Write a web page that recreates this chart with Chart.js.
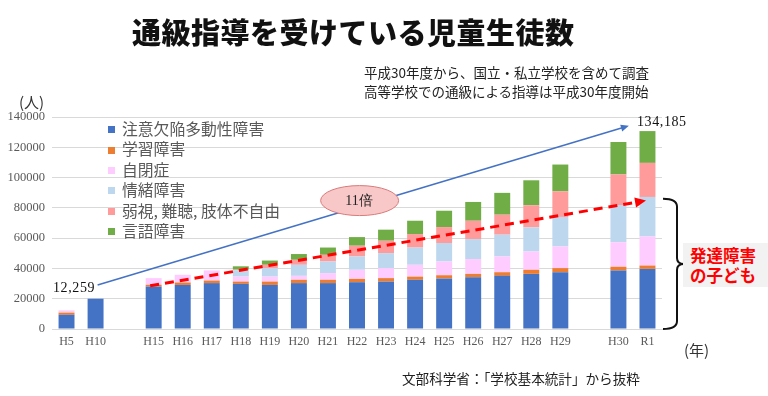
<!DOCTYPE html>
<html><head><meta charset="utf-8">
<script src="https://cdn.jsdelivr.net/npm/chart.js@4.4.1/dist/chart.umd.min.js"></script>
<style>
html,body{margin:0;padding:0;background:#fff;}
#wrap{position:relative;width:768px;height:396px;overflow:hidden;font-family:"Noto Sans CJK JP",sans-serif;}
#c{position:absolute;left:0;top:0;}
.t{position:absolute;white-space:nowrap;}
#title{left:132px;top:10px;font-size:29px;font-weight:900;color:#111;letter-spacing:0.5px;}
#sub{left:364px;top:63px;font-size:13.5px;line-height:18.5px;color:#222;}
#legend{left:108px;top:119px;}
.li{height:20.4px;line-height:20.4px;font-size:15.8px;color:#595959;}
.li span{display:inline-block;width:7px;height:7px;margin-right:7px;vertical-align:middle;position:relative;top:-1px;}
.num{font-family:"Liberation Serif",serif;font-size:14px;color:#111;letter-spacing:0.6px;}
#src{left:402px;top:368px;font-size:13.6px;color:#222;}
#unitY{left:19px;top:91px;font-size:15px;color:#333;}
#unitX{left:684px;top:339px;font-size:15px;color:#333;}
#badge{left:683px;top:243px;width:85px;height:44px;background:#f2f2f2;}
#badgeTxt{left:690px;top:245px;font-size:16.5px;font-weight:700;color:#ff0000;line-height:20px;}
#times{left:320px;top:192px;width:78px;text-align:center;font-family:"Liberation Serif",serif;font-size:14px;color:#222;}
</style></head>
<body>
<div id="wrap">
<canvas id="c" width="768" height="396"></canvas>
<div class="t" id="title">通級指導を受けている児童生徒数</div>
<div class="t" id="sub">平成30年度から、国立・私立学校を含めて調査<br>高等学校での通級による指導は平成30年度開始</div>
<div class="t" id="legend"></div>
<div class="t num" id="l1" style="left:53px;top:280px;">12,259</div>
<div class="t num" id="l2" style="left:637px;top:114px;">134,185</div>
<div class="t" id="times">11倍</div>
<div class="t" id="badge"></div>
<div class="t" id="badgeTxt">発達障害<br>の子ども</div>
<div class="t" id="unitY">(人)</div>
<div class="t" id="unitX">(年)</div>
<div class="t" id="src">文部科学省：「学校基本統計」から抜粋</div>
</div>
<script>
// ---- data ----
const categories = ['H5','H10','','H15','H16','H17','H18','H19','H20','H21','H22','H23','H24','H25','H26','H27','H28','H29','','H30','R1'];
const seriesNames = ['注意欠陥多動性障害','学習障害','自閉症','情緒障害','弱視, 難聴, 肢体不自由','言語障害'];
const adhd      = [9400,20000,null,28000,29100,30300,29800,29100,30300,30300,30900,31300,32500,33300,34200,35100,36400,37500,null,38600,39700];
const ld        = [1400,0,null,1200,1600,1700,1500,2200,2200,2200,2200,2300,2100,2200,2200,2400,2700,2700,null,2500,2200];
const autism    = [1300,0,null,4400,5100,6700,3300,3300,2600,4400,6000,6600,7800,9100,9800,10400,12100,14300,null,16200,19200];
const emotional = [0,0,null,0,0,0,4200,5600,7300,7700,8800,9900,11400,12200,13200,14400,15900,19500,null,24600,26100];
const physical  = [159,0,null,0,0,0,400,2200,3300,4400,7100,8200,8900,10500,12100,13200,14600,16900,null,20200,22500];
const speech    = [0,0,null,0,0,0,2200,2800,3800,4800,5700,7300,8800,10800,12400,14400,16500,17700,null,21400,21000];
const yTicks = [0,20000,40000,60000,80000,100000,120000,140000];
// annotation anchors (category index, value)
const growthStart = [1.07, 29000], growthEnd = [19.36, 134185];
const devStart = [2.88, 28500], devEnd = [19.95, 84800];
const ellipseAt = [10.09, 84800];
const bracketTop = 86000;

const colors = ['#4472C4','#ED7D31','#FFCCFF','#BDD7EE','#FF9B9B','#70AD47'];
const values = [adhd, ld, autism, emotional, physical, speech];

// legend
const lg = document.getElementById('legend');
seriesNames.forEach((n,i)=>{
  const d=document.createElement('div');d.className='li';
  d.innerHTML='<span style="background:'+colors[i]+'"></span>'+n;lg.appendChild(d);
});

function arrowHead(ctx,x1,y1,x2,y2,len,wid,color){
  const a=Math.atan2(y2-y1,x2-x1);
  ctx.save();ctx.fillStyle=color;ctx.beginPath();
  ctx.moveTo(x2,y2);
  ctx.lineTo(x2-len*Math.cos(a)+wid*Math.sin(a), y2-len*Math.sin(a)-wid*Math.cos(a));
  ctx.lineTo(x2-len*Math.cos(a)-wid*Math.sin(a), y2-len*Math.sin(a)+wid*Math.cos(a));
  ctx.closePath();ctx.fill();ctx.restore();
}

const annot = {
  id:'annot',
  afterDatasetsDraw(chart){
    const ctx=chart.ctx, xs=chart.scales.x, ys=chart.scales.y;
    const slot=(xs.right-xs.left)/categories.length;
    const px=i=>xs.left+(i+0.5)*slot, py=v=>ys.getPixelForValue(v);
    // blue growth arrow
    let x1=px(growthStart[0]),y1=py(growthStart[1]),x2=px(growthEnd[0]),y2=py(growthEnd[1]);
    ctx.save();ctx.strokeStyle='#4472C4';ctx.lineWidth=1.6;ctx.beginPath();
    const a=Math.atan2(y2-y1,x2-x1);
    ctx.moveTo(x1,y1);ctx.lineTo(x2-6*Math.cos(a),y2-6*Math.sin(a));ctx.stroke();ctx.restore();
    arrowHead(ctx,x1,y1,x2,y2,8,3.5,'#4472C4');
    // ellipse
    const ex=px(ellipseAt[0]), ey=py(ellipseAt[1]);
    ctx.save();ctx.beginPath();ctx.ellipse(ex,ey,39,15,0,0,Math.PI*2);
    ctx.fillStyle='#F8C8C8';ctx.fill();ctx.strokeStyle='#D97A7A';ctx.lineWidth=1;ctx.stroke();ctx.restore();
    // red dashed arrow
    x1=px(devStart[0]);y1=py(devStart[1]);x2=px(devEnd[0]);y2=py(devEnd[1]);
    const b=Math.atan2(y2-y1,x2-x1);
    ctx.save();ctx.strokeStyle='#FF0000';ctx.lineWidth=3;ctx.setLineDash([9,6]);ctx.beginPath();
    ctx.moveTo(x1,y1);ctx.lineTo(x2-9*Math.cos(b),y2-9*Math.sin(b));ctx.stroke();ctx.restore();
    arrowHead(ctx,x1,y1,x2,y2,11,5,'#FF0000');
    // bracket
    const bt=py(bracketTop), bb=py(0), bm=(bt+bb)/2, bx=xs.right+15;
    ctx.save();ctx.strokeStyle='#111';ctx.lineWidth=2;ctx.beginPath();
    ctx.moveTo(xs.right+1,bt);ctx.quadraticCurveTo(bx,bt,bx,bt+8);
    ctx.lineTo(bx,bm-6);ctx.quadraticCurveTo(bx,bm,bx+7,bm);
    ctx.quadraticCurveTo(bx,bm,bx,bm+6);ctx.lineTo(bx,bb-8);
    ctx.quadraticCurveTo(bx,bb,xs.right+1,bb);ctx.stroke();ctx.restore();
  }
};

new Chart(document.getElementById('c'),{
  type:'bar',
  data:{labels:categories,datasets:values.map((v,i)=>({label:seriesNames[i],data:v,backgroundColor:colors[i],borderWidth:0,barPercentage:0.9,categoryPercentage:0.61}))},
  options:{
    responsive:false,animation:false,
    layout:{padding:{top:117,right:106,bottom:37,left:0}},
    plugins:{legend:{display:false},tooltip:{enabled:false}},
    scales:{
      x:{stacked:true,grid:{display:false,drawTicks:false},border:{display:true,color:'#d9d9d9'},
        ticks:{font:{family:'Liberation Serif',size:12},color:'#595959',padding:6,autoSkip:false,maxRotation:0},
        afterFit(s){s.height=30;}},
      y:{stacked:true,min:0,max:140000,afterBuildTicks(s){s.ticks=yTicks.map(v=>({value:v}));},
        grid:{color:'#d9d9d9',drawTicks:false},border:{display:false},
        ticks:{font:{family:'Liberation Serif',size:12.5},color:'#595959',padding:7,callback:v=>String(v)},
        afterFit(s){s.width=52;}}
    }
  },
  plugins:[annot]
});
</script>
</body></html>
